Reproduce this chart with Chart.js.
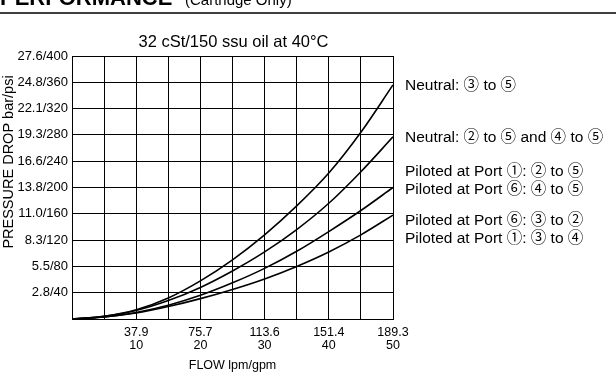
<!DOCTYPE html>
<html>
<head>
<meta charset="utf-8">
<script src="https://cdn.jsdelivr.net/npm/chart.js@4.4.0/dist/chart.umd.min.js"></script>
<style>
  html, body { margin: 0; padding: 0; background: #fff; }
  #wrap { width: 616px; height: 373px; position: relative; }
</style>
</head>
<body>
<div id="wrap"><canvas id="myChart"></canvas></div>
<script>
// flow in gpm (lpm shown on first tick line)
const flowGpm = [0, 5, 10, 15, 20, 25, 30, 35, 40, 45, 50];
const flowLpm = { 10: "37.9", 20: "75.7", 30: "113.6", 40: "151.4", 50: "189.3" };

// pressure drop, psi
const neutral35 = [0, 4, 14, 32, 58, 90, 128, 172, 222, 284, 356];
const neutral25and45 = [0, 4, 13, 28, 48, 73, 102, 136, 176, 224, 277];
const piloted25and45 = [0, 3, 10, 21, 36, 55, 77, 103, 133, 165, 200];
const piloted32and34 = [0, 3, 9, 19, 31, 45, 61, 80, 102, 128, 158];

// y tick labels bar/psi
const psiTicks = [40, 80, 120, 160, 200, 240, 280, 320, 360, 400];
const barTicks = ["2.8", "5.5", "8.3", "11.0", "13.8", "16.6", "19.3", "22.1", "24.8", "27.6"];

// curve labels (text, psi value at label centre)
const curveLabels = ["Neutral: ③ to ⑤", "Neutral: ② to ⑤ and ④ to ⑤",
  "Piloted at Port ①: ② to ⑤", "Piloted at Port ⑥: ④ to ⑤",
  "Piloted at Port ⑥: ③ to ②", "Piloted at Port ①: ③ to ④"];
const curveLabelPsi = [355, 275, 224, 197, 149, 122];

const FONT = "'Liberation Sans', Arial, Helvetica, sans-serif";
const LABEL_FONT = "'Liberation Sans', 'Noto Sans CJK JP', sans-serif";

const mkSet = (data) => ({
  data: data.map((v, j) => ({ x: flowGpm[j], y: v })),
  borderColor: "#000",
  borderWidth: 1.6,
  pointRadius: 0,
  fill: false,
  cubicInterpolationMode: "monotone",
});

// header, title, y title, curve labels
const textPlugin = {
  id: "texts",
  afterDraw(chart) {
    const c = chart.ctx;
    const y = chart.scales.y;
    const area = chart.chartArea;
    c.save();
    c.fillStyle = "#000";
    c.textBaseline = "alphabetic";
    c.textAlign = "left";
    c.font = "bold 22px " + FONT;
    c.fillText("PERFORMANCE", 0, 5);
    c.font = "15px " + FONT;
    c.fillText("(Cartridge Only)", 185, 5);
    c.strokeStyle = "#000";
    c.lineWidth = 1.5;
    c.beginPath();
    c.moveTo(0, 13);
    c.lineTo(616, 13);
    c.stroke();

    c.textAlign = "center";
    c.textBaseline = "middle";
    c.font = "16.5px " + FONT;
    c.fillText("32 cSt/150 ssu oil at 40°C", (area.left + area.right) / 2 + 1, 42);

    c.save();
    c.translate(9, 162);
    c.rotate(-Math.PI / 2);
    c.font = "14.5px " + FONT;
    c.fillText("PRESSURE DROP bar/psi", 0, 0);
    c.restore();

    c.textAlign = "left";
    c.font = "15.5px " + LABEL_FONT;
    curveLabels.forEach((t, i) => {
      c.fillText(t, 405, y.getPixelForValue(curveLabelPsi[i]));
    });
    c.restore();
  },
};

new Chart(document.getElementById("myChart"), {
  type: "line",
  data: {
    labels: flowGpm,
    datasets: [
      mkSet(neutral35),
      mkSet(neutral25and45),
      mkSet(piloted25and45),
      mkSet(piloted32and34),
    ],
  },
  options: {
    responsive: true,
    maintainAspectRatio: false,
    animation: false,
    layout: { padding: { top: 56, right: 223, bottom: 0, left: 0 } },
    plugins: { legend: { display: false }, tooltip: { enabled: false } },
    scales: {
      x: {
        type: "linear",
        min: 0,
        max: 50,
        afterFit: (s) => { s.height = 54; },
        grid: { color: "#000", lineWidth: 1, drawTicks: false },
        border: { color: "#000", width: 1 },
        ticks: {
          stepSize: 5,
          padding: 7,
          color: "#000",
          maxRotation: 0,
          autoSkip: false,
          font: { family: FONT, size: 12.5, lineHeight: 1.05 },
          callback: (v) => (flowLpm[v] ? [flowLpm[v], String(v)] : ""),
        },
        title: {
          display: true,
          text: "FLOW lpm/gpm",
          color: "#000",
          font: { family: FONT, size: 12.5 },
          padding: { top: 0, bottom: 0 },
        },
      },
      y: {
        min: 0,
        max: 400,
        afterFit: (s) => { s.width = 72; },
        grid: { color: "#000", lineWidth: 1, drawTicks: false },
        border: { color: "#000", width: 1 },
        ticks: {
          stepSize: 40,
          padding: 4,
          color: "#000",
          font: { family: FONT, size: 13 },
          callback: (v) => {
            const i = psiTicks.indexOf(v);
            return i < 0 ? "" : barTicks[i] + "/" + psiTicks[i];
          },
        },
      },
    },
  },
  plugins: [textPlugin],
});
</script>
</body>
</html>
